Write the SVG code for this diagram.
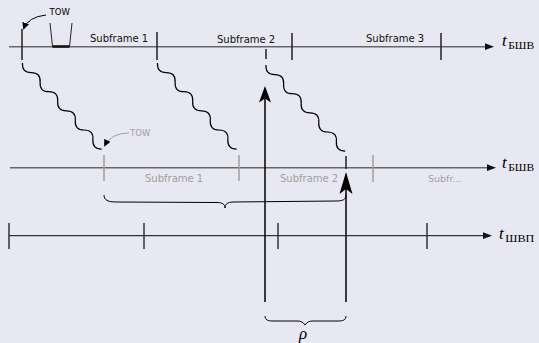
<svg xmlns="http://www.w3.org/2000/svg" width="539" height="343" viewBox="0 0 539 343">
<style>
.axis{stroke:#666;stroke-width:1.4;fill:none}
.axis3{stroke:#333;stroke-width:1.2;fill:none}
.tick{stroke:#222;stroke-width:1.5}
.gtick{stroke:#a0a0a0;stroke-width:1.5}
.ln{stroke:#000;stroke-width:1.5;fill:none}
.thin{stroke:#000;stroke-width:1;fill:none}
.lbl{font-family:"DejaVu Sans",sans-serif;font-size:10px;fill:#111}
.glbl{font-family:"DejaVu Sans",sans-serif;font-size:10px;fill:#a0a0a0}
.tow{font-family:"DejaVu Sans",sans-serif;font-size:8.5px}
.tl{font-family:"Liberation Serif","DejaVu Serif",serif;font-size:17px;font-style:italic;fill:#000}
.ts{font-family:"Liberation Serif","DejaVu Serif",serif;font-size:10.5px;font-style:normal;fill:#000}
</style>
<defs>
<path id="snake" d="M0,0 q6.5,7 13,0 t13,0 t13,0 t13,0 t13,0 t13,0 t13,0 t13,0 t13,0" class="thin" style="stroke-width:1.2"/>
<marker id="ah" viewBox="0 0 10 10" refX="9" refY="5" markerWidth="7" markerHeight="7" orient="auto" markerUnits="userSpaceOnUse"><path d="M0,0 L10,5 L0,10 Z" fill="#000"/></marker>
</defs>
<rect width="539" height="343" fill="#e8e8f2"/>

<g id="axis-top">
<line x1="9" y1="46.7" x2="487" y2="46.7" class="axis"/>
<path d="M494,46.7 L485,43.3 L485,50.1 Z" fill="#111"/>
<text x="502" y="46" class="tl">t<tspan class="ts" y="49" dx="1.5" textLength="26" lengthAdjust="spacingAndGlyphs">БШВ</tspan></text>
<line x1="22" y1="29" x2="22" y2="60" class="tick"/>
<line x1="157" y1="32" x2="157" y2="60" class="tick"/>
<line x1="266" y1="49" x2="266" y2="59" class="tick"/>
<line x1="292" y1="33" x2="292" y2="60" class="tick"/>
<line x1="441" y1="33" x2="441" y2="60" class="tick"/>
<text x="90" y="41.7" class="lbl">Subframe 1</text>
<text x="217" y="43.3" class="lbl">Subframe 2</text>
<text x="366" y="41.7" class="lbl">Subframe 3</text>
</g>

<g id="tow-top">
<path d="M50,23 L52.5,46.5 M72,23 L69.5,46.5" class="thin" style="stroke:#222"/>
<line x1="52.5" y1="46.5" x2="69.5" y2="46.5" stroke="#111" stroke-width="2.6"/>
<text x="49.5" y="15" class="tow" fill="#000">TOW</text>
</g>

<g id="axis-mid">
<line x1="10" y1="167.7" x2="489" y2="167.7" class="axis"/>
<path d="M496,167.7 L487,164.3 L487,171.1 Z" fill="#111"/>
<text x="502" y="168" class="tl">t<tspan class="ts" y="171" dx="1.5" textLength="26" lengthAdjust="spacingAndGlyphs">БШВ</tspan></text>
<line x1="104" y1="155" x2="104" y2="181" class="gtick"/>
<line x1="239" y1="155" x2="239" y2="181" class="gtick"/>
<line x1="373" y1="155" x2="373" y2="182" class="gtick"/>
<line x1="346" y1="156" x2="346" y2="169" class="tick"/>
<text x="145" y="182" class="glbl">Subframe 1</text>
<text x="280" y="181.5" class="glbl">Subframe 2</text>
<text x="428" y="182" class="glbl" style="font-size:9.5px">Subfr...</text>
</g>

<g id="tow-mid">
<text x="130" y="136" class="tow" fill="#a0a0a0">TOW</text>
</g>

<g id="axis-bot">
<line x1="9" y1="235.7" x2="485" y2="235.7" class="axis3"/>
<path d="M492,235.7 L483,232.3 L483,239.1 Z" fill="#111"/>
<text x="499" y="239" class="tl">t<tspan class="ts" y="241.5" dx="1.5" textLength="29" lengthAdjust="spacingAndGlyphs">ШВП</tspan></text>
<line x1="9" y1="223" x2="9" y2="249" class="tick" style="stroke:#333"/>
<line x1="144" y1="223" x2="144" y2="249" class="tick" style="stroke:#333"/>
<line x1="278" y1="223" x2="278" y2="249" class="tick" style="stroke:#333"/>
<line x1="427" y1="223" x2="427" y2="249" class="tick" style="stroke:#333"/>
</g>

<g id="connectors">
<use href="#snake" transform="translate(22.5,63) rotate(47.4)"/>
<use href="#snake" transform="translate(157.5,63) rotate(47.4)"/>
<use href="#snake" transform="translate(266,65) rotate(47.4)"/>
<path d="M46,15 Q28,17 23.5,29" class="thin" marker-end="url(#ah)"/>
<path d="M129,133 Q111,133 104.5,146" fill="none" stroke="#a0a0a0" stroke-width="1" marker-end="url(#ah)"/>
<line x1="265" y1="98" x2="265" y2="302" class="ln"/>
<path d="M265,86 L271,102.5 L265,98.5 L259,102.5 Z" fill="#000"/>
<line x1="346" y1="188" x2="346" y2="302" class="ln"/>
<path d="M346,172 L352.5,194 L346,189 L339.5,194 Z" fill="#000"/>
<path d="M104,195 C104,200 108,202 116,202 L217,202.5 C222,202.5 225,204 225,208 C225,204 228,202 233,202 L336,201 C342,201 346,200 346,195" class="thin"/>
<path d="M265,316 C265,320 268,321 273,321 L297,321 C301,321 303,322 305,325 C307,322 309,321 313,321 L338,321 C343,321 346,320 346,316" class="thin"/>
</g>
<text x="299" y="339" class="tl">ρ</text>
</svg>
